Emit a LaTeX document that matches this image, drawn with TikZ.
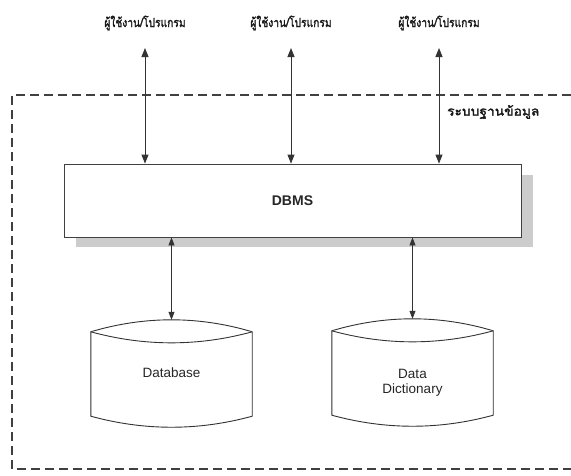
\documentclass[tikz,border=0pt]{standalone}
\usepackage{fontspec}
\setmainfont{Liberation Sans}
\newfontfamily\thaifont[Script=Thai,FakeBold=2.2]{Loma}
\usetikzlibrary{arrows.meta,calc,backgrounds}
\begin{document}
\begin{tikzpicture}[x=1pt,y=-1pt,
  thai/.style={font=\thaifont\fontsize{12.5}{14}\selectfont, text=black!90, inner sep=0pt},
  conn/.style={draw=black!80, line width=0.9pt, {Triangle[width=7pt,length=9pt]}-{Triangle[width=7pt,length=9pt]}},
  connlow/.style={draw=black!80, line width=0.7pt, {Triangle[width=6pt,length=8pt]}-{Triangle[width=6pt,length=8pt]}},
  shadowc/.style={fill=black!20},
  dbmsbox/.style={draw=black!75, line width=0.9pt, fill=white, minimum width=457pt, minimum height=73pt, inner sep=0pt, font=\bfseries\fontsize{14}{16}\selectfont, text=black!85},
  cylbody/.style={minimum width=161pt, minimum height=84pt, inner sep=0pt, align=center, font=\fontsize{13.5}{16}\selectfont, text=black!85},
  cylline/.style={draw=black!80, line width=0.9pt, fill=white},
  frame/.style={draw=black!75, line width=1.1pt, dash pattern=on 9pt off 5pt}]
\useasboundingbox (0,0) rectangle (571,475);

% labels
\node[thai, xscale=0.82] (u1) at (145,23) {ผู้ใช้งาน/โปรแกรม};
\node[thai, xscale=0.82] (u2) at (291,23) {ผู้ใช้งาน/โปรแกรม};
\node[thai, xscale=0.82] (u3) at (439,23) {ผู้ใช้งาน/โปรแกรม};
\node[thai, xscale=1.1, anchor=west] (sys) at (447,112) {ระบบฐานข้อมูล};

\coordinate (t1) at (145,48);
\coordinate (t2) at (291,48);
\coordinate (t3) at (439,48);

% frame
\draw[frame] (571,95) -- (12,95) -- (12,469) -- (571,469);

% DBMS
\node[dbmsbox] (dbms) at (292.5,200.5) {DBMS};

% cylinders
\node[cylbody] (db) at (171.5,374) {};
\node[cylbody] (dd) at (412.5,373) {};

\draw[cylline] (db.north west) .. controls ($(db.north west)+(53.7,-16)$) and ($(db.north east)+(-53.7,-16)$) .. (db.north east)
  -- (db.south east) .. controls ($(db.south east)+(-53.7,14.7)$) and ($(db.south west)+(53.7,14.7)$) .. (db.south west) -- cycle;
\draw[cylline] (db.north west) .. controls ($(db.north west)+(53.7,14.7)$) and ($(db.north east)+(-53.7,14.7)$) .. (db.north east);
\draw[cylline] (dd.north west) .. controls ($(dd.north west)+(53.7,-16)$) and ($(dd.north east)+(-53.7,-16)$) .. (dd.north east)
  -- (dd.south east) .. controls ($(dd.south east)+(-53.7,14.7)$) and ($(dd.south west)+(53.7,14.7)$) .. (dd.south west) -- cycle;
\draw[cylline] (dd.north west) .. controls ($(dd.north west)+(53.7,14.7)$) and ($(dd.north east)+(-53.7,14.7)$) .. (dd.north east);

\node[cylbody] (dbt) at ($(db.center)+(0,-1)$) {Database};
\node[cylbody] (ddt) at ($(dd.center)+(0,10)$) {Data\\[-1pt]Dictionary};

\coordinate (dbtop) at ($(db.north)+(0,-12)$);
\coordinate (ddtop) at ($(dd.north)+(0,-12)$);

% connectors
\draw[conn] (t1) -- (t1 |- dbms.north);
\draw[conn] (t2) -- (t2 |- dbms.north);
\draw[conn] (t3) -- (t3 |- dbms.north);
\draw[connlow] (dbms.south -| dbtop) -- (dbtop);
\draw[connlow] (dbms.south -| ddtop) -- (ddtop);

% shadows
\begin{scope}[on background layer]
  \fill[white] (0,0) rectangle (571,475);
  \fill[shadowc] ($(dbms.north west)+(12,11)$) rectangle ($(dbms.south east)+(12,10)$);
  \begin{scope}[shift={(11,10)}]
    \fill[shadowc] (db.north west) .. controls ($(db.north west)+(53.7,-16)$) and ($(db.north east)+(-53.7,-16)$) .. (db.north east)
      -- (db.south east) .. controls ($(db.south east)+(-53.7,14.7)$) and ($(db.south west)+(53.7,14.7)$) .. (db.south west) -- cycle;
    \fill[shadowc] (dd.north west) .. controls ($(dd.north west)+(53.7,-16)$) and ($(dd.north east)+(-53.7,-16)$) .. (dd.north east)
      -- (dd.south east) .. controls ($(dd.south east)+(-53.7,14.7)$) and ($(dd.south west)+(53.7,14.7)$) .. (dd.south west) -- cycle;
  \end{scope}
\end{scope}
\end{tikzpicture}
\end{document}
